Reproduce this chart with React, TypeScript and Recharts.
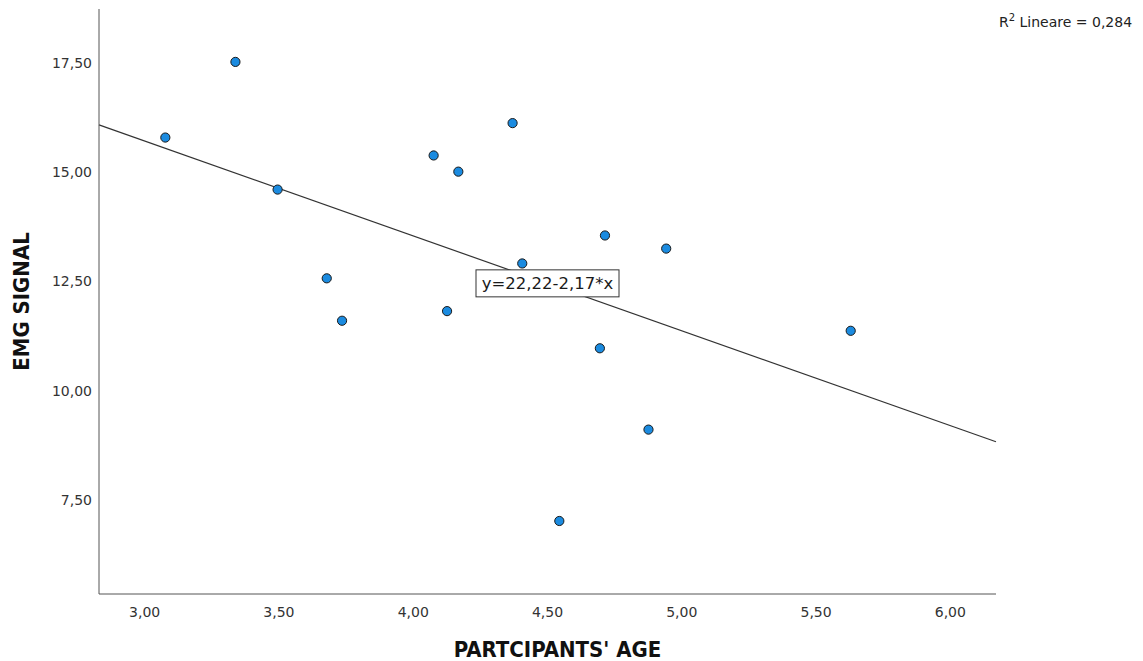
import React from "react";
import {
  ScatterChart,
  Scatter,
  XAxis,
  YAxis,
  ReferenceLine,
  ReferenceDot,
  Label,
  Customized,
} from "recharts";

const ages = [3.077, 3.338, 3.495, 3.678, 3.735, 4.076, 4.126, 4.168, 4.37, 4.406, 4.544, 4.695, 4.714, 4.876, 4.942, 5.629];
const emg = [15.79, 17.52, 14.6, 12.57, 11.6, 15.38, 11.82, 15.01, 16.12, 12.91, 7.02, 10.97, 13.55, 9.11, 13.25, 11.37];
const xTicks = [3, 3.5, 4, 4.5, 5, 5.5, 6];
const yTicks = [7.5, 10, 12.5, 15, 17.5];
const xDomain = [2.83, 6.17];
const yDomain = [5.35, 18.73];
const intercept = 22.22;
const slope = -2.17;
const equationText = "y=22,22-2,17*x";
const r2Value = "0,284";

const points = ages.map((a, i) => ({ x: a, y: emg[i] }));
const fit = (x: number) => intercept + slope * x;
const fmt = (v: number) => v.toFixed(2).replace(".", ",");

const FONT = "'DejaVu Sans', sans-serif";
const TITLE_FONT = "'DejaVu Sans Condensed', 'DejaVu Sans', sans-serif";

const Dot = (props: any) => {
  const { cx, cy } = props;
  if (cx == null || cy == null) return null;
  return <circle cx={cx} cy={cy} r={4.6} fill="#1b8be0" stroke="#1a1a1a" strokeWidth={1} />;
};

const EquationBox = (props: any) => {
  const { cx, cy } = props;
  if (cx == null || cy == null) return null;
  const w = 143;
  const h = 27;
  return (
    <g>
      <rect x={cx - w / 2} y={cy - h / 2} width={w} height={h} fill="#ffffff" stroke="#333333" strokeWidth={1} />
      <text x={cx} y={cy + 6} textAnchor="middle" fontFamily={FONT} fontSize={16.5} fill="#1a1a1a">
        {equationText}
      </text>
    </g>
  );
};

const R2Text = () => (
  <text x={999} y={27} fontFamily={FONT} fontSize={14} fill="#222">
    R
    <tspan fontSize={10} dy={-6}>2</tspan>
    <tspan dy={6}> Lineare = {r2Value}</tspan>
  </text>
);

export default function App() {
  return (
    <div style={{ position: "absolute", left: 0, top: 0, background: "#fff" }}>
      <ScatterChart width={1143} height={661} margin={{ top: 9, right: 147, bottom: 0, left: 0 }}>
        <XAxis
          type="number"
          dataKey="x"
          domain={xDomain}
          ticks={xTicks}
          tickFormatter={fmt}
          allowDataOverflow
          height={67}
          stroke="#555"
          tickLine={false}
          tickSize={6}
          tickMargin={7}
          tick={{ fontFamily: FONT, fontSize: 14, fill: "#333" }}
        >
          <Label
            value="PARTCIPANTS' AGE"
            position="insideBottom"
            offset={4}
            dx={10}
            style={{ fontFamily: TITLE_FONT, fontSize: 22, fontWeight: "bold", fill: "#111", fontStretch: "condensed" }}
          />
        </XAxis>
        <YAxis
          type="number"
          dataKey="y"
          domain={yDomain}
          ticks={yTicks}
          tickFormatter={fmt}
          allowDataOverflow
          width={99}
          stroke="#555"
          tickLine={false}
          tickSize={5}
          tickMargin={2}
          tick={{ fontFamily: FONT, fontSize: 14, fill: "#333" }}
        >
          <Label
            value="EMG SIGNAL"
            angle={-90}
            position="insideLeft"
            offset={21}
            style={{ textAnchor: "middle", fontFamily: TITLE_FONT, fontSize: 22, fontWeight: "bold", fill: "#111", fontStretch: "condensed" }}
          />
        </YAxis>
        <ReferenceLine
          segment={[
            { x: xDomain[0], y: fit(xDomain[0]) },
            { x: xDomain[1], y: fit(xDomain[1]) },
          ]}
          stroke="#333"
          strokeWidth={1.2}
          ifOverflow="visible"
        />
        <Scatter data={points} shape={<Dot />} isAnimationActive={false} />
        <ReferenceDot
          x={(xDomain[0] + xDomain[1]) / 2}
          y={fit((xDomain[0] + xDomain[1]) / 2)}
          shape={<EquationBox />}
          ifOverflow="visible"
        />
        <Customized component={<R2Text />} />
      </ScatterChart>
    </div>
  );
}
